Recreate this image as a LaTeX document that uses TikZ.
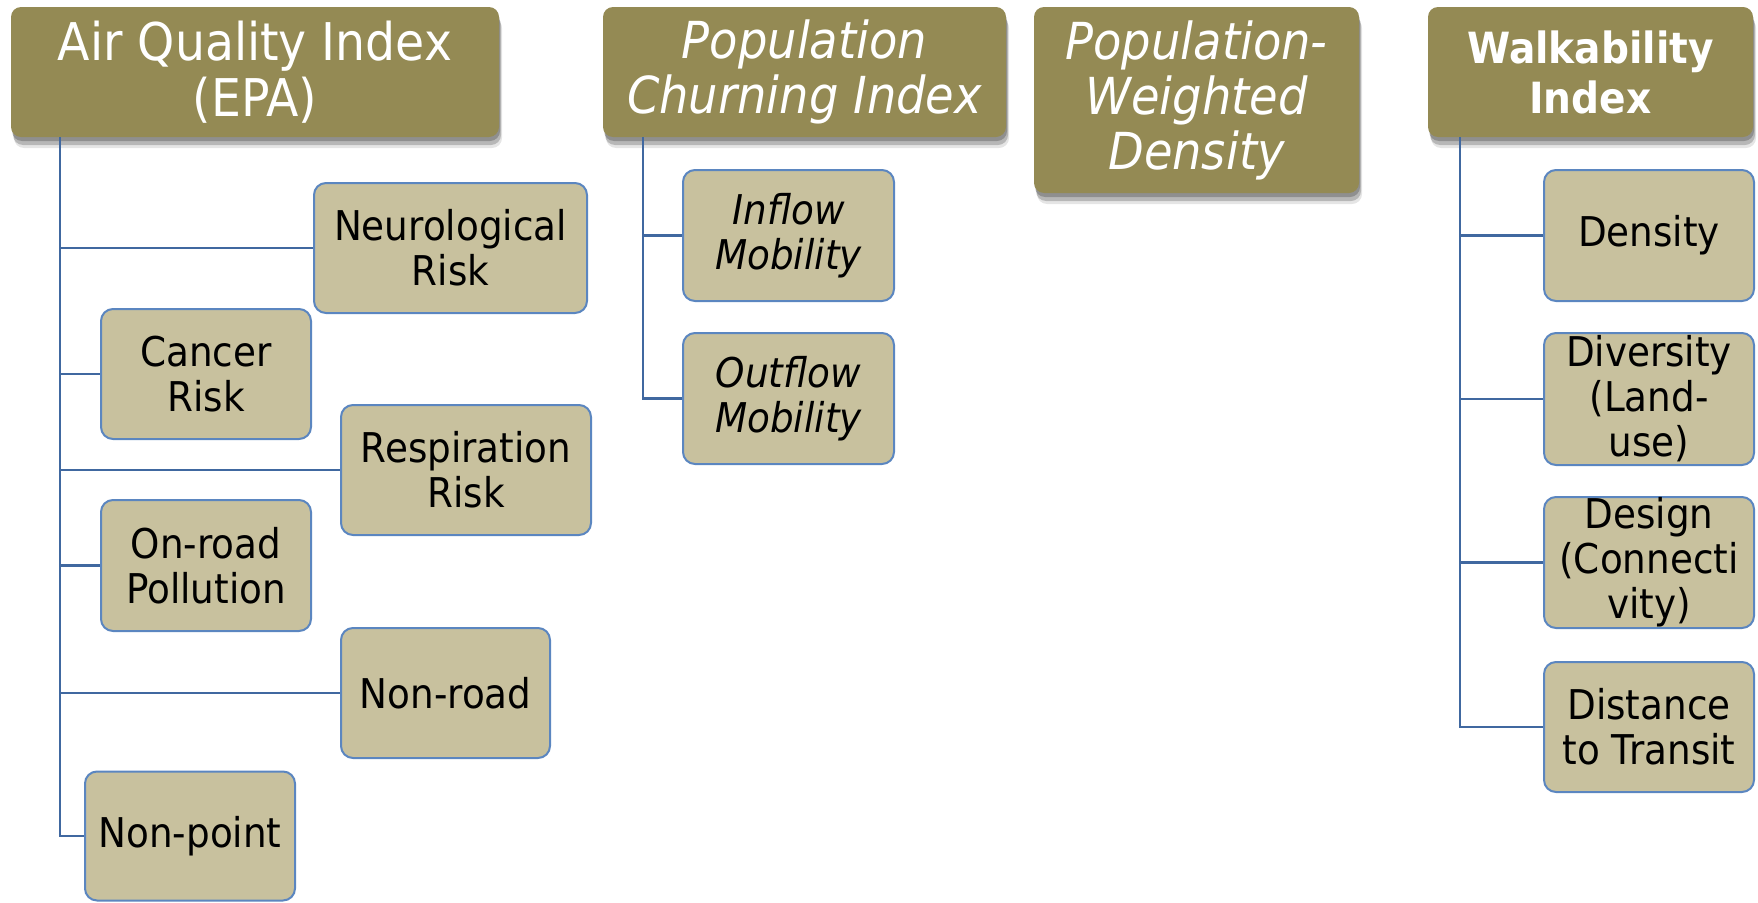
\documentclass[tikz,border=0pt]{standalone}
\usepackage{fontspec}
\setmainfont{DejaVu Sans}[FakeStretch=0.91]
\usetikzlibrary{shadows}
\definecolor{hdrfill}{HTML}{948A54}
\definecolor{kidfill}{HTML}{C8C19E}
\definecolor{kidline}{HTML}{5B86C0}
\definecolor{connline}{HTML}{4068A0}
\tikzset{
  hdr/.style={draw=none, fill=hdrfill, rounded corners=10pt, text=white, align=center, inner sep=0pt,
    general shadow={fill=black, opacity=0.10, shadow xshift=3pt, shadow yshift=-11pt},
    general shadow={fill=black, opacity=0.20, shadow xshift=2pt, shadow yshift=-8pt},
    general shadow={fill=black, opacity=0.22, shadow xshift=1pt, shadow yshift=-4pt},
    font=\fontsize{52}{56}\selectfont},
  hdrit/.style={hdr, font=\fontsize{51}{55}\selectfont\itshape},
  hdrbf/.style={hdr, font=\fontsize{43}{50}\selectfont\bfseries},
  kid/.style={draw=kidline, line width=2pt, fill=kidfill, rounded corners=12pt, text=black, align=center,
    inner sep=0pt, font=\fontsize{41}{45}\selectfont},
  kidit/.style={kid, font=\fontsize{41}{45}\selectfont\itshape},
  conn/.style={draw=connline, line width=2.2pt}
}
\begin{document}
\begin{tikzpicture}[x=1pt,y=-1pt]
\useasboundingbox (0,0) rectangle (1758,902);
% headers
\node[hdr, minimum width=488pt, minimum height=130pt] (aqi) at (255,72) {Air Quality Index\\(EPA)};
\node[hdrit, minimum width=403pt, minimum height=130pt] (pci) at (804.5,72) {Population\\Churning Index};
\node[hdrit, minimum width=325pt, minimum height=186pt] (pwd) at (1196.5,100) {Population-\\Weighted\\Density};
\node[hdrbf, minimum width=325pt, minimum height=130pt] (wi) at (1590.5,72) {Walkability\\Index};
% AQI children
\node[kid, minimum width=273pt, minimum height=130pt] (neuro) at (450.5,248) {Neurological\\Risk};
\node[kid, minimum width=210pt, minimum height=130pt] (cancer) at (206,374) {Cancer\\Risk};
\node[kid, minimum width=250pt, minimum height=130pt] (resp) at (466,470) {Respiration\\Risk};
\node[kid, minimum width=210pt, minimum height=131pt] (onroad) at (206,565.5) {On-road\\Pollution};
\node[kid, minimum width=209pt, minimum height=130pt] (nonroad) at (445.5,693) {Non-road};
\node[kid, minimum width=210pt, minimum height=129pt] (nonpoint) at (190,836) {Non-point};
% PCI children
\node[kidit, minimum width=211pt, minimum height=131pt] (inflow) at (788.5,235.5) {Inflow\\Mobility};
\node[kidit, minimum width=211pt, minimum height=131pt] (outflow) at (788.5,398.5) {Outflow\\Mobility};
% WI children
\node[kid, minimum width=210pt, minimum height=131pt] (dens) at (1649,235.5) {Density};
\node[kid, minimum width=210pt, minimum height=132pt] (div) at (1649,399) {Diversity\\(Land-\\use)};
\node[kid, minimum width=210pt, minimum height=131pt] (des) at (1649,562.5) {Design\\(Connecti\\vity)};
\node[kid, minimum width=210pt, minimum height=130pt] (dist) at (1649,727) {Distance\\to Transit};
% connector roots
\coordinate (aqiT) at (aqi.south west -| 60,0);
\coordinate (pciT) at (pci.south west -| 643,0);
\coordinate (wiT) at (wi.south west -| 1460,0);
% connectors
\foreach \k in {neuro,cancer,resp,onroad,nonroad,nonpoint}
  \draw[conn] (aqiT) |- (\k.west);
\foreach \k in {inflow,outflow}
  \draw[conn] (pciT) |- (\k.west);
\foreach \k in {dens,div,des,dist}
  \draw[conn] (wiT) |- (\k.west);
\end{tikzpicture}
\end{document}
